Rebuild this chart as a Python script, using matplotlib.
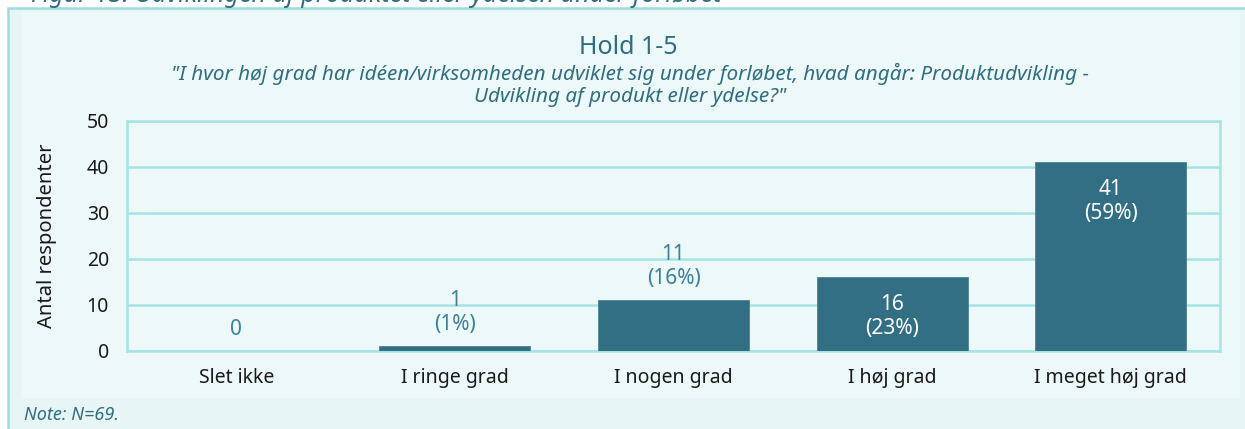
import matplotlib
matplotlib.use("Agg")
import matplotlib.pyplot as plt
from matplotlib.patches import Rectangle

categories = ["Slet ikke", "I ringe grad", "I nogen grad", "I høj grad", "I meget høj grad"]
counts = [0, 1, 11, 16, 41]
percents = [None, 1, 16, 23, 59]
y_ticks = [0, 10, 20, 30, 40, 50]

caption = "Figur 13: Udviklingen af produktet eller ydelsen under forløbet"
title = "Hold 1-5"
subtitle = ("\"I hvor høj grad har idéen/virksomheden udviklet sig under forløbet, hvad angår: Produktudvikling -\n"
            "Udvikling af produkt eller ydelse?\"")
note = "Note: N=69."

bg = "#e8f5f5"
inner_bg = "#edf8f8"
border = "#9fdcdc"
grid_col = "#a6e4e4"
bar_col = "#336f84"
teal = "#2f6d80"
label_teal = "#3b8299"

plt.rcParams["font.family"] = ["Noto Sans", "DejaVu Sans"]

W, H = 1245, 429
fig = plt.figure(figsize=(W / 100, H / 100), dpi=100)
fig.patch.set_facecolor("white")

# outer box (runs off the right and bottom edge) and the lighter chart area
fig.patches.append(Rectangle((8 / W, -0.2), 1.2, 1 - 8 / H + 0.2, transform=fig.transFigure,
                             facecolor=bg, edgecolor=border, linewidth=1.8, zorder=-5))
fig.patches.append(Rectangle((22 / W, 1 - 398 / H), (1240 - 22) / W, (398 - 12) / H,
                             transform=fig.transFigure, facecolor=inner_bg, edgecolor="none", zorder=-4))

ax = fig.add_axes([127 / W, 1 - 351 / H, (1220 - 127) / W, (351 - 121) / H])
ax.set_facecolor(inner_bg)

x = range(len(categories))
bars = ax.bar(x, counts, width=0.69, color=bar_col, edgecolor="#4a8596", linewidth=0.6, zorder=3)

ax.set_xlim(-0.5, len(categories) - 0.5)
ax.set_ylim(0, 50)
ax.set_yticks(y_ticks)
ax.set_xticks(list(x))
ax.set_xticklabels(categories)
ax.tick_params(length=0, labelsize=14, colors="#1a1a1a")
ax.tick_params(axis="y", pad=13)
ax.tick_params(axis="x", pad=12)
ax.grid(axis="y", color=grid_col, linewidth=1.8, zorder=1)
for s in ax.spines.values():
    s.set_color(grid_col)
    s.set_linewidth(1.8)
ax.set_ylabel("Antal respondenter", fontsize=14.5, color="#1a1a1a", labelpad=21)

# labels inside the tall bars, above the short ones
for b, c, p in zip(bars, counts, percents):
    txt = str(c) if p is None else f"{c}\n({p}%)"
    cx = b.get_x() + b.get_width() / 2
    if c / 50 > 0.3:
        ax.annotate(txt, (cx, c), xytext=(0, -12), textcoords="offset points",
                    ha="center", va="top", color="white", fontsize=15, linespacing=1.2, zorder=4)
    else:
        ax.annotate(txt, (cx, c), xytext=(0, 8), textcoords="offset points",
                    ha="center", va="bottom", color=label_teal, fontsize=15, linespacing=1.2, zorder=4)

fig.text(628 / W, 1 - 47 / H, title, ha="center", va="center", fontsize=18, color=teal, family="Noto Sans")
fig.text(630 / W, 1 - 85 / H, subtitle, ha="center", va="center", fontsize=14.9, color=teal,
         style="italic", family="Noto Sans", linespacing=1.1)
fig.text(24 / W, 1 - 415 / H, note, ha="left", va="center", fontsize=13, color=teal,
         style="italic", family="Noto Sans")
# figure caption above the box, cut off by the top edge as in the source
fig.text(31 / W, 1 - 2 / H, caption, ha="left", va="baseline", fontsize=18, color=teal,
         style="italic", family="Noto Sans")

fig.savefig("out.png", dpi=100)
